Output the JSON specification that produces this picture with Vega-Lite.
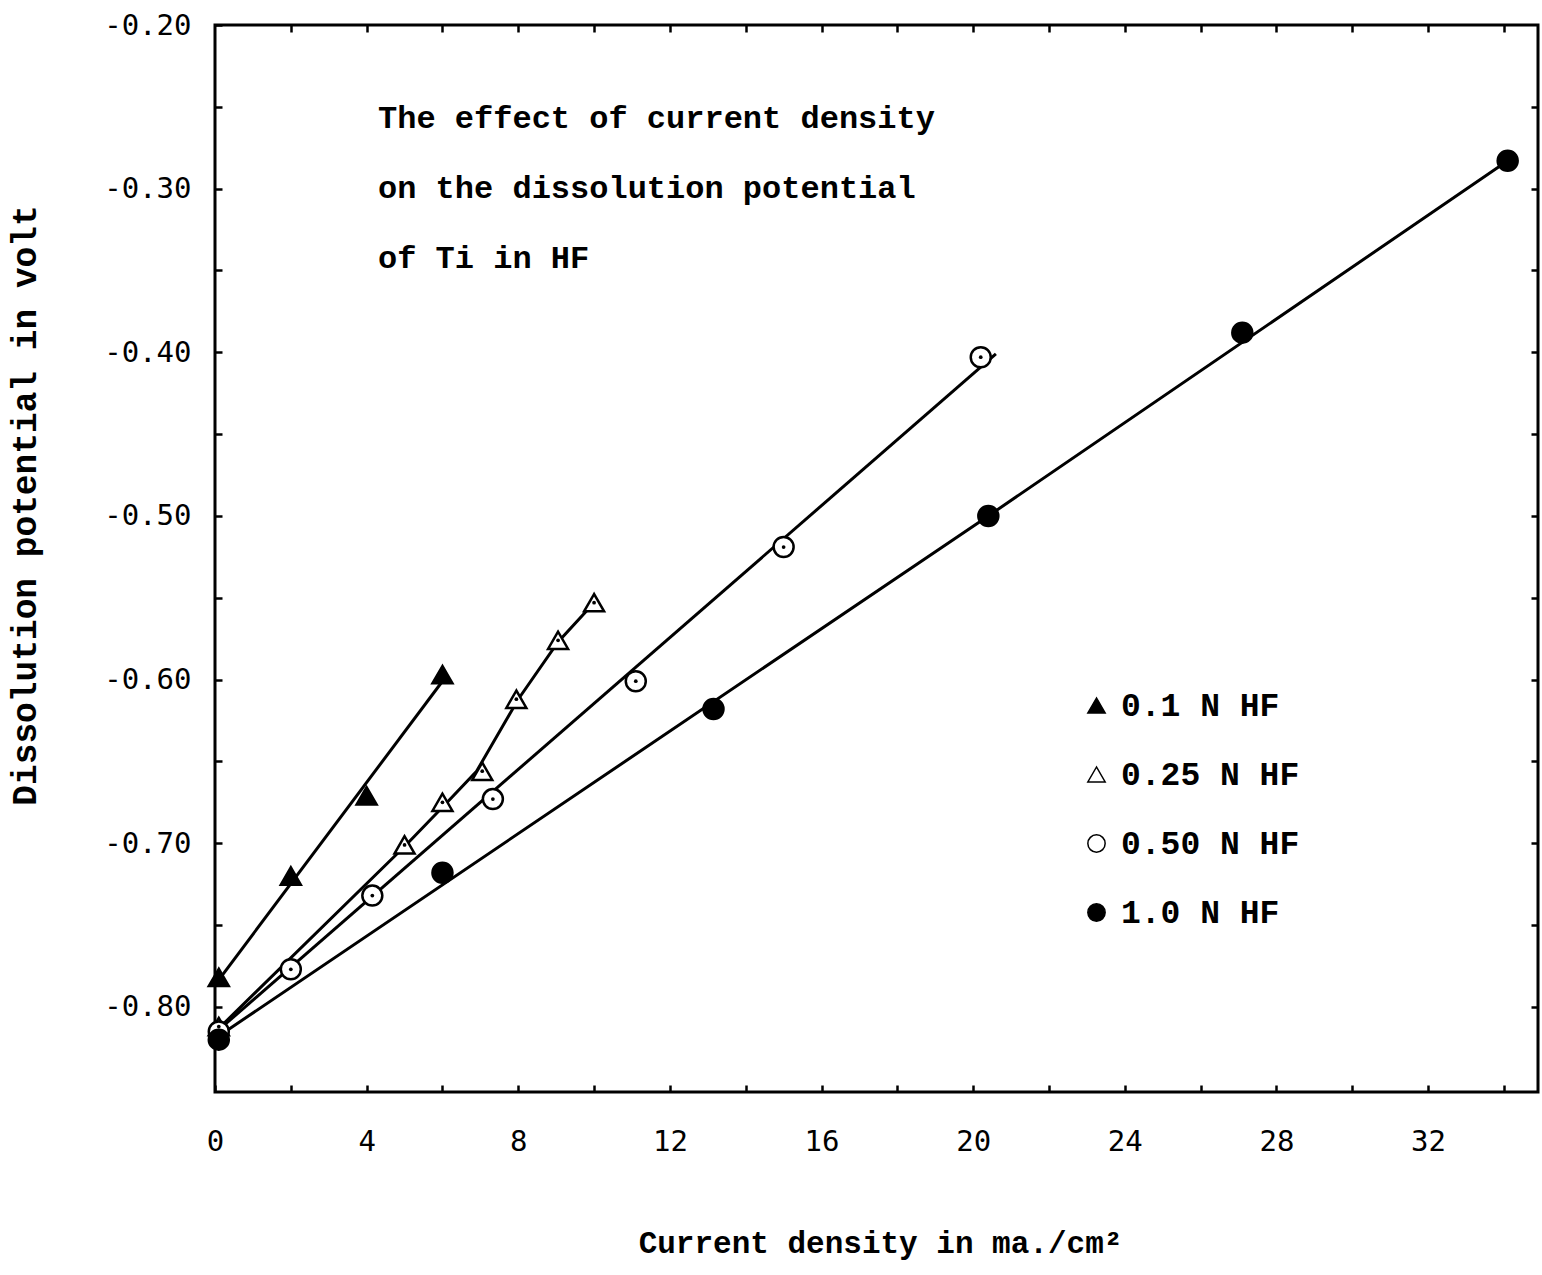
{
  "$schema": "https://vega.github.io/schema/vega-lite/v6.json",
  "width": 1323,
  "height": 1067,
  "autosize": {"type": "none"},
  "padding": {"left": 215, "top": 25, "right": 4, "bottom": 183},
  "background": "white",
  "config": {
    "view": {"stroke": "black", "strokeWidth": 3},
    "axis": {
      "grid": false,
      "domainColor": "black",
      "domainWidth": 3,
      "tickColor": "black",
      "tickWidth": 2.5,
      "labelColor": "black",
      "titleColor": "black",
      "labelFont": "DejaVu Sans Mono",
      "labelFontSize": 29,
      "labelFlush": false,
      "titleFont": "Liberation Mono",
      "titleFontWeight": "bold"
    },
    "legend": {
      "orient": "none",
      "legendX": 865,
      "legendY": 664,
      "labelFont": "Liberation Mono",
      "labelFontWeight": "bold",
      "labelFontSize": 33,
      "labelColor": "black",
      "labelLimit": 400,
      "symbolSize": 300,
      "rowPadding": 35,
      "labelOffset": 8
    }
  },
  "datasets": {
    "points": [
      {"series": "0.1 N HF", "cd": 0.1, "pot": -0.782},
      {"series": "0.1 N HF", "cd": 2.0, "pot": -0.720},
      {"series": "0.1 N HF", "cd": 4.0, "pot": -0.671},
      {"series": "0.1 N HF", "cd": 6.0, "pot": -0.597},
      {"series": "0.25 N HF", "cd": 0.1, "pot": -0.812},
      {"series": "0.25 N HF", "cd": 5.0, "pot": -0.701},
      {"series": "0.25 N HF", "cd": 6.0, "pot": -0.675},
      {"series": "0.25 N HF", "cd": 7.05, "pot": -0.656},
      {"series": "0.25 N HF", "cd": 7.95, "pot": -0.612},
      {"series": "0.25 N HF", "cd": 9.05, "pot": -0.576},
      {"series": "0.25 N HF", "cd": 10.0, "pot": -0.553},
      {"series": "0.50 N HF", "cd": 0.1, "pot": -0.815},
      {"series": "0.50 N HF", "cd": 2.0, "pot": -0.777},
      {"series": "0.50 N HF", "cd": 4.15, "pot": -0.732},
      {"series": "0.50 N HF", "cd": 7.33, "pot": -0.673},
      {"series": "0.50 N HF", "cd": 11.1, "pot": -0.601},
      {"series": "0.50 N HF", "cd": 15.0, "pot": -0.519},
      {"series": "0.50 N HF", "cd": 20.2, "pot": -0.403},
      {"series": "1.0 N HF", "cd": 0.1, "pot": -0.820},
      {"series": "1.0 N HF", "cd": 6.0, "pot": -0.718},
      {"series": "1.0 N HF", "cd": 13.15, "pot": -0.618},
      {"series": "1.0 N HF", "cd": 20.4, "pot": -0.500},
      {"series": "1.0 N HF", "cd": 27.1, "pot": -0.388},
      {"series": "1.0 N HF", "cd": 34.1, "pot": -0.283}
    ],
    "fits": [
      {"series": "0.1 N HF", "cd": 0.05, "pot": -0.785},
      {"series": "0.1 N HF", "cd": 6.0, "pot": -0.601},
      {"series": "0.25 N HF", "cd": 0.15, "pot": -0.812},
      {"series": "0.25 N HF", "cd": 5.0, "pot": -0.702},
      {"series": "0.25 N HF", "cd": 6.0, "pot": -0.678},
      {"series": "0.25 N HF", "cd": 6.9, "pot": -0.656},
      {"series": "0.25 N HF", "cd": 8.0, "pot": -0.612},
      {"series": "0.25 N HF", "cd": 9.05, "pot": -0.577},
      {"series": "0.25 N HF", "cd": 10.0, "pot": -0.553},
      {"series": "0.50 N HF", "cd": 0.15, "pot": -0.813},
      {"series": "0.50 N HF", "cd": 20.6, "pot": -0.401},
      {"series": "1.0 N HF", "cd": 0.15, "pot": -0.817},
      {"series": "1.0 N HF", "cd": 20.4, "pot": -0.500},
      {"series": "1.0 N HF", "cd": 34.1, "pot": -0.283}
    ],
    "notes": [
      {"cd": 4.3, "pot": -0.2568, "text": "The effect of current density"},
      {"cd": 4.3, "pot": -0.2996, "text": "on the dissolution potential"},
      {"cd": 4.3, "pot": -0.3424, "text": "of Ti in HF"}
    ]
  },
  "layer": [
    {
      "data": {"name": "fits"},
      "mark": {"type": "line", "color": "black", "strokeWidth": 3},
      "encoding": {
        "x": {
          "field": "cd", "type": "quantitative",
          "scale": {"domain": [0, 34.9], "nice": false, "zero": false},
          "axis": {"orient": "top", "values": [2,4,6,8,10,12,14,16,18,20,22,24,26,28,30,32,34], "labels": false, "domain": false, "tickSize": -7, "title": null}
        },
        "y": {
          "field": "pot", "type": "quantitative",
          "scale": {"domain": [-0.852, -0.2], "nice": false, "zero": false},
          "axis": {"orient": "right", "values": [-0.8,-0.75,-0.7,-0.65,-0.6,-0.55,-0.5,-0.45,-0.4,-0.35,-0.3,-0.25], "labels": false, "domain": false, "tickSize": -7, "title": null}
        },
        "detail": {"field": "series"}
      }
    },
    {
      "data": {"name": "points"},
      "mark": {"type": "point", "filled": true, "stroke": "black", "strokeWidth": 2.5, "opacity": 1, "size": 400},
      "encoding": {
        "x": {
          "field": "cd", "type": "quantitative",
          "scale": {"domain": [0, 34.9], "nice": false, "zero": false},
          "axis": {
            "orient": "bottom",
            "values": [0,2,4,6,8,10,12,14,16,18,20,22,24,26,28,30,32,34],
            "labelExpr": "datum.value % 4 == 0 ? format(datum.value, 'd') : ''",
            "tickSize": -7,
            "labelPadding": 42,
            "labelBaseline": "top",
            "domain": false,
            "title": "Current density in ma./cm²",
            "titleFontSize": 31,
            "titleBaseline": "middle",
            "titleX": 665,
            "titleY": 151
          }
        },
        "y": {
          "field": "pot", "type": "quantitative",
          "scale": {"domain": [-0.852, -0.2], "nice": false, "zero": false},
          "axis": {
            "orient": "left",
            "values": [-0.8,-0.75,-0.7,-0.65,-0.6,-0.55,-0.5,-0.45,-0.4,-0.35,-0.3,-0.25,-0.2],
            "labelExpr": "abs(round(datum.value*100)) % 10 == 0 ? '-' + format(abs(datum.value), '.2f') : ''",
            "tickSize": -7,
            "labelPadding": 31,
            "domain": false,
            "title": "Dissolution potential in volt",
            "titleFontSize": 34.5,
            "titleAngle": -90,
            "titleBaseline": "middle",
            "titleAlign": "center",
            "titleX": -190,
            "titleY": 480
          }
        },
        "shape": {
          "field": "series", "type": "nominal",
          "scale": {"domain": ["0.1 N HF", "0.25 N HF", "0.50 N HF", "1.0 N HF"], "range": ["triangle-up", "triangle-up", "circle", "circle"]},
          "legend": {
            "title": null,
            "encode": {"symbols": {
              "stroke": {"value": "black"},
              "strokeWidth": {"value": 2},
              "size": {"condition": {"test": "datum.value == '0.25 N HF' || datum.value == '0.50 N HF'", "value": 180}, "value": 330}
            }}
          }
        },
        "fill": {
          "field": "series", "type": "nominal",
          "scale": {"domain": ["0.1 N HF", "0.25 N HF", "0.50 N HF", "1.0 N HF"], "range": ["black", "white", "white", "black"]},
          "legend": {
            "title": null,
            "encode": {"symbols": {
              "stroke": {"value": "black"},
              "strokeWidth": {"value": 2},
              "size": {"condition": {"test": "datum.value == '0.25 N HF' || datum.value == '0.50 N HF'", "value": 180}, "value": 330}
            }}
          }
        }
      }
    },
    {
      "data": {"name": "points"},
      "transform": [{"filter": {"field": "series", "oneOf": ["0.25 N HF", "0.50 N HF"]}}],
      "mark": {"type": "point", "filled": true, "color": "black", "size": 14, "shape": "circle", "opacity": 1},
      "encoding": {
        "x": {"field": "cd", "type": "quantitative", "scale": {"domain": [0, 34.9], "nice": false, "zero": false}, "axis": null},
        "y": {"field": "pot", "type": "quantitative", "scale": {"domain": [-0.852, -0.2], "nice": false, "zero": false}, "axis": null}
      }
    },
    {
      "data": {"name": "notes"},
      "mark": {"type": "text", "align": "left", "baseline": "middle", "font": "Liberation Mono", "fontWeight": "bold", "fontSize": 32, "color": "black"},
      "encoding": {
        "x": {"field": "cd", "type": "quantitative", "scale": {"domain": [0, 34.9], "nice": false, "zero": false}, "axis": null},
        "y": {"field": "pot", "type": "quantitative", "scale": {"domain": [-0.852, -0.2], "nice": false, "zero": false}, "axis": null},
        "text": {"field": "text"}
      }
    }
  ],
  "resolve": {"axis": {"x": "independent", "y": "independent"}}
}
